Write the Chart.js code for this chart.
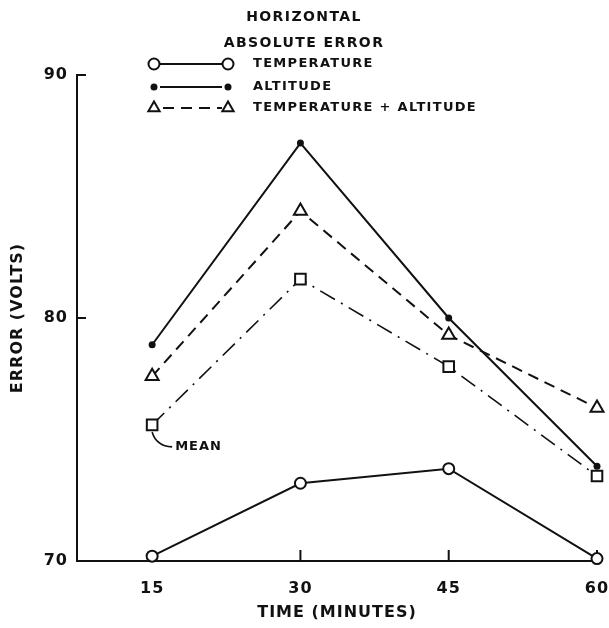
<!DOCTYPE html>
<html>
<head>
<meta charset="utf-8">
<script src="https://cdn.jsdelivr.net/npm/chart.js@4.4.1/dist/chart.umd.min.js"></script>
<style>
  body { margin: 0; background: #fff; }
  #wrap { width: 609px; height: 628px; }
</style>
</head>
<body>
<div id="wrap"><canvas id="errChart"></canvas></div>
<script>
// error readings, in volts, at each sample time
const minutes = [15, 30, 45, 60];
const temperature = [70.2, 73.2, 73.8, 70.1];
const altitude = [78.9, 87.2, 80.0, 73.9];
const tempAltitude = [77.6, 84.4, 79.3, 76.3];
const mean = [75.6, 81.6, 78.0, 73.5];
const yTicks = [70, 80, 90];
const titleLines = ['HORIZONTAL', 'ABSOLUTE ERROR'];

const INK = '#111';
const FONT = '"DejaVu Sans", sans-serif';

function pts(values) {
  return minutes.map((m, i) => ({ x: m, y: values[i] }));
}

const datasets = [
  {
    label: 'TEMPERATURE', data: pts(temperature),
    borderColor: INK, borderWidth: 2,
    pointStyle: 'circle', pointRadius: 5.5, pointBorderWidth: 2,
    pointBackgroundColor: '#fff', pointBorderColor: INK
  },
  {
    label: 'ALTITUDE', data: pts(altitude),
    borderColor: INK, borderWidth: 2,
    pointStyle: 'circle', pointRadius: 3.5, pointBorderWidth: 0,
    pointBackgroundColor: INK, pointBorderColor: INK
  },
  {
    label: 'TEMPERATURE + ALTITUDE', data: pts(tempAltitude),
    borderColor: INK, borderWidth: 2, borderDash: [11, 7],
    pointStyle: 'triangle', pointRadius: 7.5, pointBorderWidth: 2,
    pointBackgroundColor: '#fff', pointBorderColor: INK
  },
  {
    label: 'MEAN', data: pts(mean),
    borderColor: INK, borderWidth: 1.6, borderDash: [17, 7, 2, 7],
    pointStyle: 'rect', pointRadius: 7.5, pointBorderWidth: 2,
    pointBackgroundColor: '#fff', pointBorderColor: INK
  }
];
datasets.forEach(d => { d.clip = false; d.tension = 0; d.fill = false; });

// inward ticks, title block, key and the MEAN note
const paperMarks = {
  id: 'paperMarks',
  beforeDraw(chart) {
    chart.ctx.letterSpacing = '1px';
  },
  beforeDatasetsDraw(chart) {
    const { ctx } = chart;
    const xs = chart.scales.x, ys = chart.scales.y;
    ctx.save();
    ctx.strokeStyle = INK;
    ctx.lineWidth = 2;
    ctx.beginPath();
    minutes.forEach(m => {
      const px = xs.getPixelForValue(m);
      ctx.moveTo(px, ys.bottom);
      ctx.lineTo(px, ys.bottom - 11);
    });
    yTicks.slice(1).forEach(v => {
      const py = ys.getPixelForValue(v);
      ctx.moveTo(xs.left, py);
      ctx.lineTo(xs.left + 9, py);
    });
    ctx.stroke();
    ctx.restore();
  },
  afterDraw(chart) {
    const { ctx } = chart;
    ctx.save();
    ctx.fillStyle = INK;
    ctx.strokeStyle = INK;

    // title
    ctx.font = 'bold 14px ' + FONT;
    ctx.letterSpacing = '1.4px';
    ctx.textAlign = 'center';
    ctx.textBaseline = 'middle';
    titleLines.forEach((t, i) => ctx.fillText(t, 304, 17 + i * 26));

    // key
    const rows = [64, 87, 108];
    ctx.font = 'bold 13px ' + FONT;
    ctx.letterSpacing = '1.3px';
    ctx.textAlign = 'left';
    rows.forEach((ry, i) => {
      const ds = datasets[i];
      ctx.save();
      ctx.lineWidth = ds.borderWidth;
      ctx.setLineDash(ds.borderDash || []);
      ctx.beginPath();
      ctx.moveTo(ds.borderDash ? 163 : 160, ry);
      ctx.lineTo(222, ry);
      ctx.stroke();
      ctx.setLineDash([]);
      ctx.fillStyle = ds.pointBackgroundColor;
      ctx.strokeStyle = ds.pointBorderColor;
      ctx.lineWidth = ds.pointBorderWidth;
      [154, 228].forEach(kx => Chart.helpers.drawPoint(ctx, {
        pointStyle: ds.pointStyle, radius: ds.pointStyle === 'triangle' ? 6.5 : ds.pointRadius,
        rotation: 0, borderWidth: ds.pointBorderWidth
      }, kx, ry));
      ctx.restore();
      ctx.fillText(ds.label, 253, ry);
    });

    // MEAN note with its curved leader
    const meta = chart.getDatasetMeta(3).data[0];
    ctx.lineWidth = 1.6;
    ctx.beginPath();
    ctx.moveTo(meta.x, meta.y + 7);
    ctx.quadraticCurveTo(meta.x + 4, meta.y + 21, meta.x + 20, meta.y + 22);
    ctx.stroke();
    ctx.letterSpacing = '1px';
    ctx.fillText('MEAN', meta.x + 23, meta.y + 22);
    ctx.restore();
    ctx.letterSpacing = '0px';
  }
};

new Chart(document.getElementById('errChart'), {
  type: 'line',
  data: { datasets },
  plugins: [paperMarks],
  options: {
    responsive: true,
    maintainAspectRatio: false,
    animation: false,
    layout: { padding: { top: 75, right: 12, left: 0, bottom: 0 } },
    plugins: { legend: { display: false }, tooltip: { enabled: false } },
    scales: {
      x: {
        type: 'linear', position: 'bottom', min: 7.4, max: 60,
        afterBuildTicks: s => { s.ticks = minutes.map(v => ({ value: v })); },
        afterFit: s => { s.height = 67; s.paddingLeft = 0; s.paddingRight = 0; },
        grid: { display: false, drawTicks: false },
        border: { display: true, color: INK, width: 2 },
        ticks: { color: INK, font: { family: FONT, size: 16, weight: 'bold' }, padding: 18, maxRotation: 0 },
        title: {
          display: true, text: 'TIME (MINUTES)', color: INK,
          font: { family: FONT, size: 16, weight: 'bold' }, padding: { top: 0, bottom: 6 }
        }
      },
      y: {
        min: 70, max: 90,
        afterBuildTicks: s => { s.ticks = yTicks.map(v => ({ value: v })); },
        afterFit: s => { s.width = 77; },
        grid: { display: false, drawTicks: false },
        border: { display: true, color: INK, width: 2 },
        ticks: { color: INK, font: { family: FONT, size: 16, weight: 'bold' }, padding: 9 },
        title: {
          display: true, text: 'ERROR (VOLTS)', color: INK,
          font: { family: FONT, size: 16, weight: 'bold' }, padding: { top: 8, bottom: 0 }
        }
      }
    }
  }
});
</script>
</body>
</html>
